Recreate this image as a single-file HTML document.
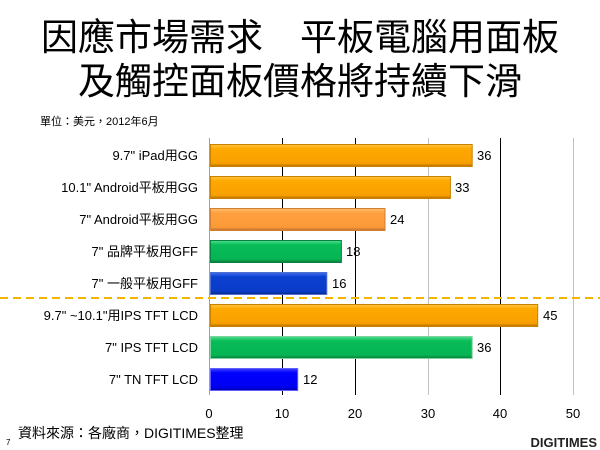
<!DOCTYPE html>
<html><head><meta charset="utf-8"><style>
body{margin:0;background:#fff;}
svg{display:block;font-family:"Liberation Sans","Noto Sans CJK TC",sans-serif;}
</style></head><body>
<svg width="600" height="450" viewBox="0 0 600 450">
<defs>
<linearGradient id="go" x1="0" y1="0" x2="0" y2="1"><stop offset="0" stop-color="#ffc640"/><stop offset="0.2" stop-color="#ffa800"/><stop offset="0.85" stop-color="#f8a000"/><stop offset="1" stop-color="#b86e00"/></linearGradient>
<linearGradient id="gl" x1="0" y1="0" x2="0" y2="1"><stop offset="0" stop-color="#ffc070"/><stop offset="0.2" stop-color="#ffa040"/><stop offset="0.85" stop-color="#fb9a38"/><stop offset="1" stop-color="#c07028"/></linearGradient>
<linearGradient id="gg" x1="0" y1="0" x2="0" y2="1"><stop offset="0" stop-color="#50e090"/><stop offset="0.2" stop-color="#08bc58"/><stop offset="0.85" stop-color="#06b454"/><stop offset="1" stop-color="#087a3c"/></linearGradient>
<linearGradient id="gb" x1="0" y1="0" x2="0" y2="1"><stop offset="0" stop-color="#4070f0"/><stop offset="0.2" stop-color="#0c40d0"/><stop offset="0.85" stop-color="#0a3cc8"/><stop offset="1" stop-color="#082888"/></linearGradient>
<linearGradient id="gb2" x1="0" y1="0" x2="0" y2="1"><stop offset="0" stop-color="#4040ff"/><stop offset="0.2" stop-color="#0000ff"/><stop offset="0.85" stop-color="#0000f0"/><stop offset="1" stop-color="#0000a0"/></linearGradient>
</defs>
<g style='font-family:"Noto Sans CJK TC",sans-serif' font-weight="400">
<text x="300" y="50" font-size="37" text-anchor="middle" fill="#000">因應市場需求　平板電腦用面板</text>
<text x="300" y="94" font-size="37" text-anchor="middle" fill="#000">及觸控面板價格將持續下滑</text>
</g>
<text x="40" y="125" font-size="11" fill="#000">單位：美元，2012年6月</text>
<g stroke-width="1">
<line x1="282.5" y1="138" x2="282.5" y2="395" stroke="#000"/>
<line x1="355.5" y1="138" x2="355.5" y2="395" stroke="#000"/>
<line x1="428.5" y1="138" x2="428.5" y2="395" stroke="#c0c0c0"/>
<line x1="500.5" y1="138" x2="500.5" y2="395" stroke="#000"/>
<line x1="573.5" y1="138" x2="573.5" y2="395" stroke="#c0c0c0"/>
<line x1="209.5" y1="138" x2="209.5" y2="395" stroke="#a0a0a0"/>
</g>
<g stroke-width="1">
<rect x="210.5" y="144.5" width="261.7" height="22" fill="url(#go)" stroke="#c88000"/>
<rect x="210.5" y="176.5" width="239.9" height="22" fill="url(#go)" stroke="#c88000"/>
<rect x="210.5" y="208.5" width="174.5" height="22" fill="url(#gl)" stroke="#d08030"/>
<rect x="210.5" y="240.5" width="130.9" height="22" fill="url(#gg)" stroke="#088040"/>
<rect x="210.5" y="272.5" width="116.3" height="22" fill="url(#gb)" stroke="#5070d0"/>
<rect x="210.5" y="304.5" width="327.2" height="22" fill="url(#go)" stroke="#c88000"/>
<rect x="210.5" y="336.5" width="261.7" height="22" fill="url(#gg)" stroke="#80d0a0"/>
<rect x="210.5" y="368.5" width="87.2" height="22" fill="url(#gb2)" stroke="#6060ff"/>
</g>
<line x1="0" y1="298" x2="600" y2="298" stroke="#f5b400" stroke-width="2" stroke-dasharray="8,5"/>
<g font-size="13" fill="#000">
<text x="477" y="160">36</text>
<text x="455" y="192">33</text>
<text x="390" y="224">24</text>
<text x="346" y="256">18</text>
<text x="332" y="288">16</text>
<text x="543" y="320">45</text>
<text x="477" y="352">36</text>
<text x="303" y="384">12</text>
</g>
<g font-size="13" fill="#000" text-anchor="end">
<text x="198" y="160">9.7" iPad用GG</text>
<text x="198" y="192">10.1" Android平板用GG</text>
<text x="198" y="224">7" Android平板用GG</text>
<text x="198" y="256">7" 品牌平板用GFF</text>
<text x="198" y="288">7" 一般平板用GFF</text>
<text x="198" y="320">9.7" ~10.1"用IPS TFT LCD</text>
<text x="198" y="352">7" IPS TFT LCD</text>
<text x="198" y="384">7" TN TFT LCD</text>
</g>
<g font-size="13" fill="#000" text-anchor="middle">
<text x="209" y="418">0</text>
<text x="282" y="418">10</text>
<text x="355" y="418">20</text>
<text x="428" y="418">30</text>
<text x="500" y="418">40</text>
<text x="573" y="418">50</text>
</g>
<text x="18" y="438" font-size="14" fill="#000">資料來源：各廠商，DIGITIMES整理</text>
<text x="6" y="445" font-size="8" fill="#000">7</text>
<text x="597" y="447" font-size="13" font-weight="bold" text-anchor="end" fill="#222">DIGITIMES</text>
</svg>
</body></html>
